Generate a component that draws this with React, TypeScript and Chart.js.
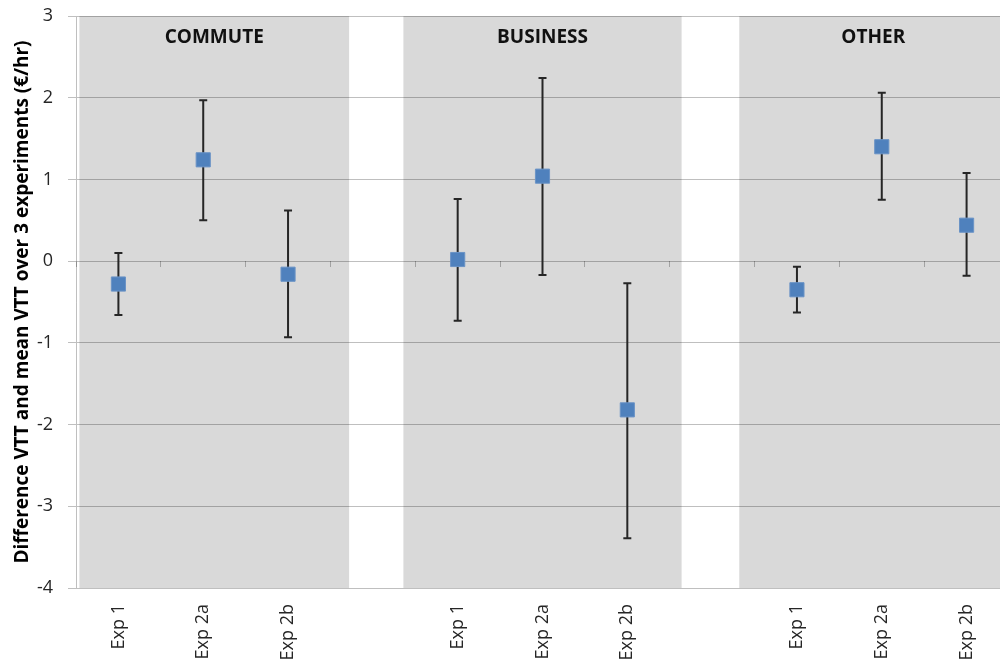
import React, { useEffect, useRef } from "react";
import { Chart, registerables } from "chart.js";

Chart.register(...registerables);

const categories = [
  "Exp 1", "Exp 2a", "Exp 2b", "",
  "Exp 1", "Exp 2a", "Exp 2b", "",
  "Exp 1", "Exp 2a", "Exp 2b",
];
const values = [-0.28, 1.24, -0.16, null, 0.02, 1.04, -1.82, null, -0.35, 1.4, 0.44];
const errHigh = [0.1, 1.97, 0.62, null, 0.76, 2.24, -0.27, null, -0.07, 2.06, 1.08];
const errLow = [-0.66, 0.5, -0.93, null, -0.73, -0.17, -3.39, null, -0.63, 0.75, -0.18];

const groupNames = ["COMMUTE", "BUSINESS", "OTHER"];
const bandStart = [-0.46, 3.36, 7.32];
const bandEnd = [2.72, 6.64, 10.48];

const yTitle = "Difference VTT and mean VTT over 3 experiments (€/hr)";
const yMin = -4;
const yMax = 3;

const FONT = "'Open Sans', 'DejaVu Sans', sans-serif";
const GRID = "rgba(0,0,0,0.25)";

const bandsPlugin = {
  id: "bands",
  beforeDraw(chart: any) {
    const { ctx, scales } = chart;
    const x = scales.x;
    const y = scales.y;
    const top = y.getPixelForValue(yMax);
    const bottom = y.getPixelForValue(yMin);
    ctx.save();
    ctx.fillStyle = "#d9d9d9";
    for (let i = 0; i < groupNames.length; i++) {
      const x1 = x.getPixelForValue(bandStart[i]);
      const x2 = x.getPixelForValue(bandEnd[i]);
      ctx.fillRect(x1, top, x2 - x1, bottom - top);
    }
    ctx.restore();
  },
  afterDraw(chart: any) {
    const { ctx, scales } = chart;
    const x = scales.x;
    const y = scales.y;
    const top = y.getPixelForValue(yMax);
    ctx.save();
    ctx.fillStyle = "#111";
    ctx.font = `bold 19px ${FONT}`;
    ctx.textAlign = "center";
    ctx.textBaseline = "middle";
    for (let i = 0; i < groupNames.length; i++) {
      const cx = (x.getPixelForValue(bandStart[i]) + x.getPixelForValue(bandEnd[i])) / 2;
      ctx.fillText(groupNames[i], cx, top + 22);
    }
    ctx.restore();
  },
};

const errorBarPlugin = {
  id: "errbars",
  beforeDatasetsDraw(chart: any) {
    const { ctx, scales } = chart;
    const x = scales.x;
    const y = scales.y;
    ctx.save();
    ctx.strokeStyle = "#262626";
    ctx.lineWidth = 2;
    for (let i = 0; i < values.length; i++) {
      const hi = errHigh[i];
      const lo = errLow[i];
      if (hi === null || lo === null) continue;
      const px = x.getPixelForValue(i);
      const y1 = y.getPixelForValue(hi);
      const y2 = y.getPixelForValue(lo);
      ctx.beginPath();
      ctx.moveTo(px, y1);
      ctx.lineTo(px, y2);
      ctx.moveTo(px - 4, y1);
      ctx.lineTo(px + 4, y1);
      ctx.moveTo(px - 4, y2);
      ctx.lineTo(px + 4, y2);
      ctx.stroke();
    }
    ctx.restore();
  },
};

export default function App() {
  const ref = useRef<HTMLCanvasElement | null>(null);

  useEffect(() => {
    if (!ref.current) return;
    const chart = new Chart(ref.current, {
      type: "line",
      data: {
        labels: categories,
        datasets: [
          {
            label: "Difference",
            data: values,
            showLine: false,
            pointStyle: "rect",
            pointRadius: 10,
            pointHoverRadius: 10,
            pointBackgroundColor: "#4F81BD",
            pointBorderColor: "#6a93c6",
            pointBorderWidth: 1,
          },
        ],
      },
      options: {
        animation: false,
        responsive: true,
        maintainAspectRatio: false,
        layout: { padding: { top: 16, right: 9, left: 0, bottom: 0 } },
        plugins: {
          legend: { display: false },
          tooltip: { enabled: false },
        },
        scales: {
          x: {
            type: "category",
            position: "bottom",
            offset: true,
            grid: { display: false, drawTicks: false },
            border: { display: false },
            ticks: {
              autoSkip: false,
              minRotation: 90,
              maxRotation: 90,
              padding: 16,
              color: "#262626",
              font: { family: FONT, size: 18 },
            },
            afterFit(scale: any) {
              scale.height = 77;
            },
          },
          x0: {
            type: "category",
            position: { y: 0 } as any,
            offset: true,
            grid: {
              offset: true,
              drawOnChartArea: false,
              drawTicks: true,
              tickLength: 6,
              color: GRID,
            },
            border: { display: false },
            ticks: { display: false },
          },
          y: {
            type: "linear",
            min: yMin,
            max: yMax,
            ticks: {
              stepSize: 1,
              padding: 15,
              color: "#262626",
              font: { family: FONT, size: 18 },
            },
            grid: { color: GRID, tickLength: 8 },
            border: { color: GRID },
            title: {
              display: true,
              text: yTitle,
              color: "#000",
              padding: { top: 11, bottom: 0 },
              font: { family: FONT, size: 19, weight: "bold" },
            },
            afterFit(scale: any) {
              scale.width = 76;
              scale.paddingTop = 0;
              scale.paddingBottom = 0;
            },
          },
        },
      },
      plugins: [bandsPlugin, errorBarPlugin],
    });
    return () => chart.destroy();
  }, []);

  return (
    <div style={{ position: "fixed", left: 0, top: 0, width: 1000, height: 665, overflow: "hidden", background: "#fff" }}>
      <div style={{ position: "relative", width: 1020, height: 665 }}>
        <canvas ref={ref} />
      </div>
    </div>
  );
}
